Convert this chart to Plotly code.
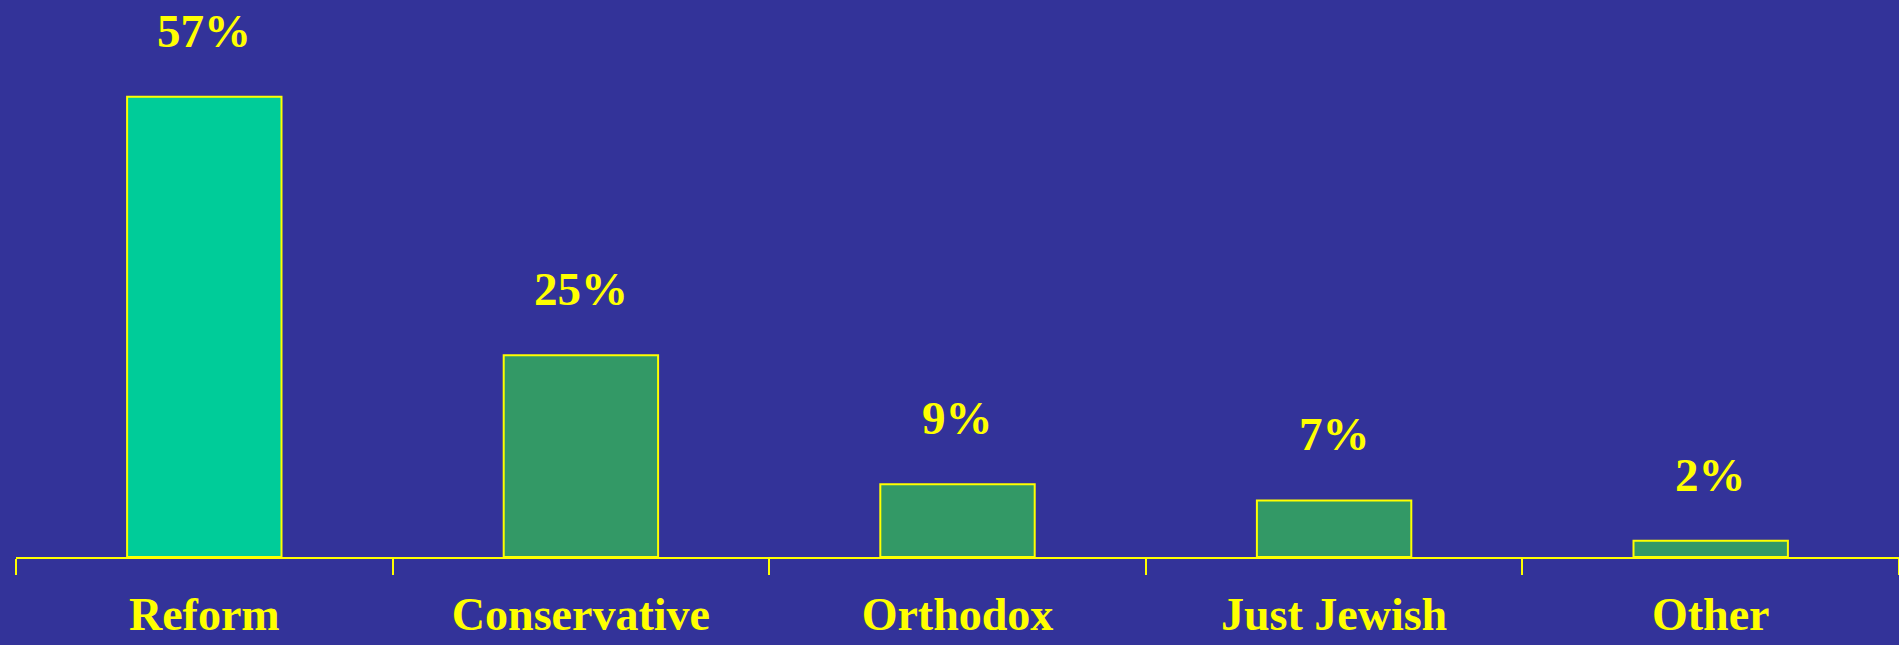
import plotly.graph_objects as go

categories = ["Reform", "Conservative", "Orthodox", "Just Jewish", "Other"]
values = [57, 25, 9, 7, 2]
labels = ["57%", "25%", "9%", "7%", "2%"]
bar_colors = ["#00CC99", "#339966", "#339966", "#339966", "#339966"]

BG = "#333399"
YEL = "#FFFF00"
FONT = "Liberation Serif, Times New Roman, serif"

fig = go.Figure()
fig.add_trace(go.Bar(
    x=categories, y=values,
    marker=dict(color=bar_colors, line=dict(color=YEL, width=2)),
    width=0.41,
    hoverinfo="skip",
))

for c, v, t in zip(categories, values, labels):
    fig.add_annotation(
        x=c, y=v, text="<b>%s</b>" % t, showarrow=False,
        yanchor="middle", yshift=66,
        font=dict(family=FONT, size=47, color=YEL),
    )

fig.update_layout(
    width=1899, height=645,
    paper_bgcolor=BG, plot_bgcolor=BG,
    margin=dict(l=16, r=0, t=0, b=88),
    showlegend=False,
    xaxis=dict(
        type="category",
        automargin=False,
        showline=True, linecolor=YEL, linewidth=2,
        ticks="outside", ticklen=16, tickwidth=2, tickcolor=YEL,
        tickson="boundaries",
        showgrid=False, zeroline=False,
        tickfont=dict(family=FONT, size=46, color=YEL),
        ticklabelstandoff=16,
        tickprefix="<b>", ticksuffix="</b>",
    ),
    yaxis=dict(
        range=[0, 69], visible=False, showgrid=False, zeroline=False,
        automargin=False,
    ),
)

fig.write_html(
    "out.html",
    config={"displayModeBar": False},
    post_script="document.body.style.margin='0';document.body.style.overflow='hidden';document.body.style.background='%s';" % BG,
)
